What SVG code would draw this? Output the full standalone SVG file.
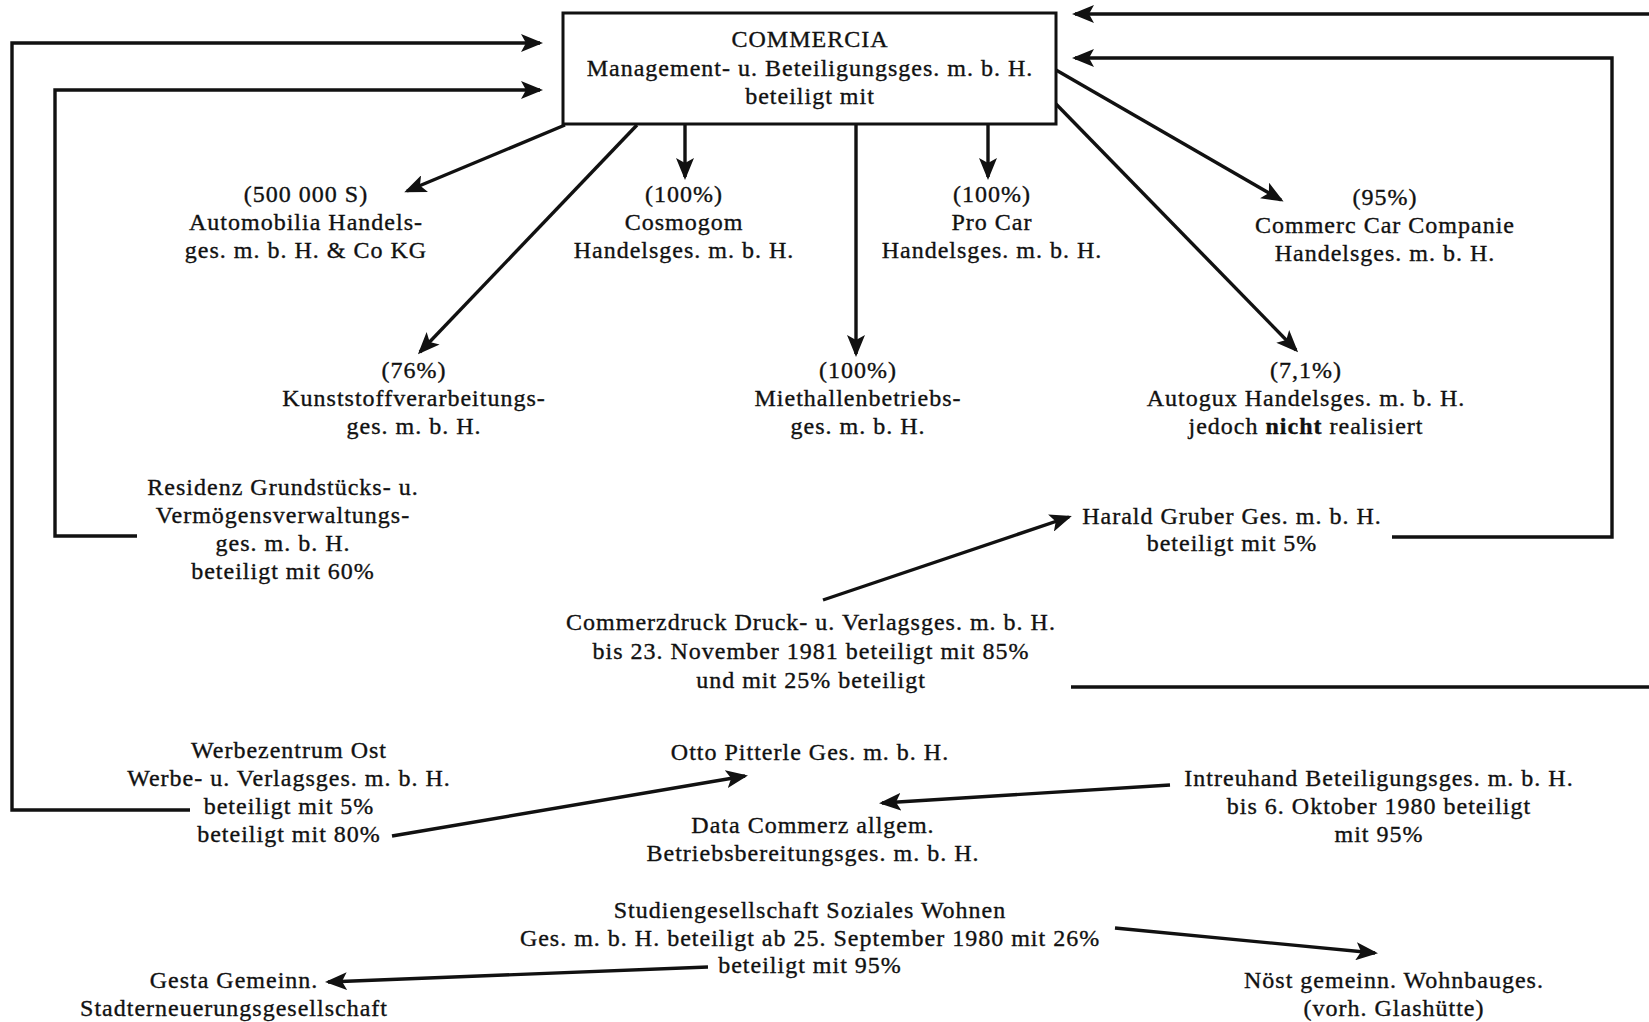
<svg xmlns="http://www.w3.org/2000/svg" width="1649" height="1022" viewBox="0 0 1649 1022">
<style>
  text { font-family: "Liberation Serif", "Times New Roman", serif; font-size: 24px; letter-spacing: 1px; fill: #111; stroke: #111; stroke-width: 0.35px; text-anchor: middle; }
  .b { font-weight: bold; }
  .ln { fill: none; stroke: #111; stroke-width: 3.4; stroke-linejoin: miter; }
  .ar { marker-end: url(#ah); }
  .box { fill: #fff; stroke: #111; stroke-width: 3; }
</style>
<defs>
  <marker id="ah" markerUnits="userSpaceOnUse" viewBox="0 0 22 18" refX="19" refY="9" markerWidth="22" markerHeight="18" orient="auto">
    <path d="M0,0 L22,9 L0,18 L5,9 Z" fill="#111"/>
  </marker>
</defs>
<rect width="1649" height="1022" fill="#fff"/>

<g id="connectors">
  <polyline class="ln ar" points="190,810 12,810 12,43 540,43"/>
  <polyline class="ln ar" points="137,536 55,536 55,90 540,90"/>
  <line class="ln ar" x1="1649" y1="14" x2="1075" y2="14"/>
  <line class="ln" x1="1071" y1="687" x2="1649" y2="687"/>
  <polyline class="ln ar" points="1392,537 1612,537 1612,58 1075,58"/>
  <line class="ln ar" x1="565" y1="125" x2="407" y2="191"/>
  <line class="ln ar" x1="637" y1="125" x2="420" y2="352"/>
  <line class="ln ar" x1="685" y1="124" x2="685" y2="177"/>
  <line class="ln ar" x1="856" y1="124" x2="856" y2="354"/>
  <line class="ln ar" x1="988" y1="124" x2="988" y2="177"/>
  <line class="ln ar" x1="1056" y1="70" x2="1281" y2="200"/>
  <line class="ln ar" x1="1056" y1="104" x2="1296" y2="350"/>
  <line class="ln ar" x1="823" y1="600" x2="1069" y2="517"/>
  <line class="ln ar" x1="392" y1="836" x2="745" y2="776"/>
  <line class="ln ar" x1="1170" y1="785" x2="882" y2="803"/>
  <line class="ln ar" x1="708" y1="967" x2="328" y2="982"/>
  <line class="ln ar" x1="1115" y1="928" x2="1375" y2="953"/>
</g>

<g id="commercia">
  <rect class="box" x="563" y="13" width="493" height="111"/>
  <text x="810" y="47">COMMERCIA</text>
  <text x="810" y="76">Management- u. Beteiligungsges. m. b. H.</text>
  <text x="810" y="104">beteiligt mit</text>
</g>

<g id="automobilia">
  <text x="306" y="202">(500 000 S)</text>
  <text x="306" y="230">Automobilia Handels-</text>
  <text x="306" y="258">ges. m. b. H. &amp; Co KG</text>
</g>

<g id="cosmogom">
  <text x="684" y="202">(100%)</text>
  <text x="684" y="230">Cosmogom</text>
  <text x="684" y="258">Handelsges. m. b. H.</text>
</g>

<g id="procar">
  <text x="992" y="202">(100%)</text>
  <text x="992" y="230">Pro Car</text>
  <text x="992" y="258">Handelsges. m. b. H.</text>
</g>

<g id="commerccar">
  <text x="1385" y="205">(95%)</text>
  <text x="1385" y="233">Commerc Car Companie</text>
  <text x="1385" y="261">Handelsges. m. b. H.</text>
</g>

<g id="kunststoff">
  <text x="414" y="378">(76%)</text>
  <text x="414" y="406">Kunststoffverarbeitungs-</text>
  <text x="414" y="434">ges. m. b. H.</text>
</g>

<g id="miethallen">
  <text x="858" y="378">(100%)</text>
  <text x="858" y="406">Miethallenbetriebs-</text>
  <text x="858" y="434">ges. m. b. H.</text>
</g>

<g id="autogux">
  <text x="1306" y="378">(7,1%)</text>
  <text x="1306" y="406">Autogux Handelsges. m. b. H.</text>
  <text x="1306" y="434">jedoch <tspan class="b">nicht</tspan> realisiert</text>
</g>

<g id="residenz">
  <text x="283" y="495">Residenz Grundstücks- u.</text>
  <text x="283" y="523">Vermögensverwaltungs-</text>
  <text x="283" y="551">ges. m. b. H.</text>
  <text x="283" y="579">beteiligt mit 60%</text>
</g>

<g id="harald">
  <text x="1232" y="524">Harald Gruber Ges. m. b. H.</text>
  <text x="1232" y="551">beteiligt mit 5%</text>
</g>

<g id="commerzdruck">
  <text x="811" y="630">Commerzdruck Druck- u. Verlagsges. m. b. H.</text>
  <text x="811" y="659">bis 23. November 1981 beteiligt mit 85%</text>
  <text x="811" y="688">und mit 25% beteiligt</text>
</g>

<g id="werbezentrum">
  <text x="289" y="758">Werbezentrum Ost</text>
  <text x="289" y="786">Werbe- u. Verlagsges. m. b. H.</text>
  <text x="289" y="814">beteiligt mit 5%</text>
  <text x="289" y="842">beteiligt mit 80%</text>
</g>

<g id="otto">
  <text x="810" y="760">Otto Pitterle Ges. m. b. H.</text>
</g>

<g id="datacommerz">
  <text x="813" y="833">Data Commerz allgem.</text>
  <text x="813" y="861">Betriebsbereitungsges. m. b. H.</text>
</g>

<g id="intreuhand">
  <text x="1379" y="786">Intreuhand Beteiligungsges. m. b. H.</text>
  <text x="1379" y="814">bis 6. Oktober 1980 beteiligt</text>
  <text x="1379" y="842">mit 95%</text>
</g>

<g id="studien">
  <text x="810" y="918">Studiengesellschaft Soziales Wohnen</text>
  <text x="810" y="946">Ges. m. b. H. beteiligt ab 25. September 1980 mit 26%</text>
  <text x="810" y="973">beteiligt mit 95%</text>
</g>

<g id="gesta">
  <text x="234" y="988">Gesta Gemeinn.</text>
  <text x="234" y="1016">Stadterneuerungsgesellschaft</text>
</g>

<g id="noest">
  <text x="1394" y="988">Nöst gemeinn. Wohnbauges.</text>
  <text x="1394" y="1016">(vorh. Glashütte)</text>
</g>
</svg>
